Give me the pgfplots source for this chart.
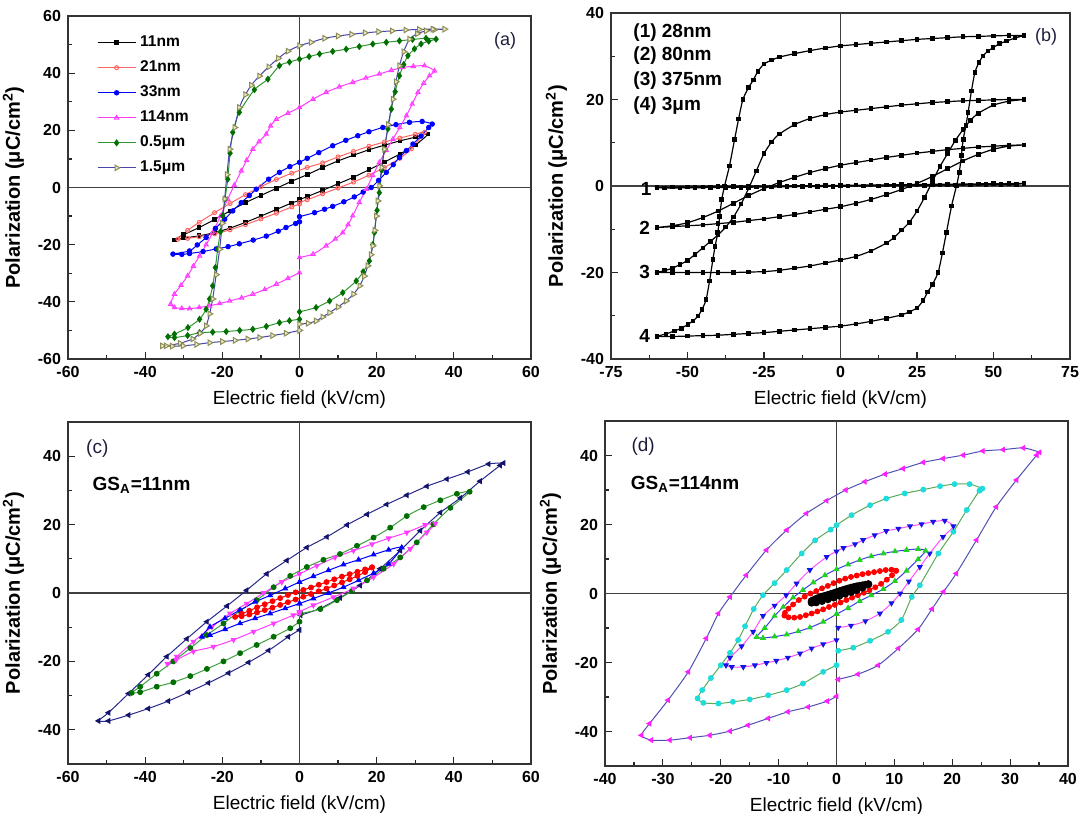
\documentclass[border=0pt]{standalone}
\usepackage{fontspec}
\setmainfont{Liberation Sans}
\usepackage{pgfplots}
\pgfplotsset{compat=1.18}
\definecolor{c21}{RGB}{255,100,100}
\definecolor{c33}{RGB}{0,0,255}
\definecolor{c114}{RGB}{255,60,255}
\definecolor{c05l}{RGB}{50,150,50}
\definecolor{c05m}{RGB}{0,110,0}
\definecolor{c15l}{RGB}{70,70,170}
\definecolor{c15f}{RGB}{235,235,190}
\definecolor{c15d}{RGB}{140,140,90}
\definecolor{navyl}{RGB}{40,40,140}
\definecolor{navym}{RGB}{20,20,110}
\definecolor{greenl}{RGB}{60,160,60}
\definecolor{lblc}{RGB}{30,30,60}
\definecolor{dout}{RGB}{80,80,180}
\definecolor{dmag}{RGB}{255,30,255}
\definecolor{dcyan}{RGB}{30,220,220}
\definecolor{dgreenl}{RGB}{90,170,90}
\definecolor{dmagl}{RGB}{255,80,255}
\definecolor{dbluem}{RGB}{20,20,230}
\definecolor{dbluel}{RGB}{60,60,230}
\definecolor{dgreenm}{RGB}{30,210,30}
\newcommand{\B}[1]{\textbf{#1}}
\pgfplotsset{
  panel/.style={
    scale only axis,
    axis line style={black!80, line width=0.75pt},
    tick align=inside, tick pos=left,
    minor tick num=1,
    major tick length=3.5pt, minor tick length=2pt,
    every tick/.style={black!85, line width=0.6pt},
    tick label style={font=\bfseries\fontsize{8}{9}\selectfont, text=black},
    xlabel={Electric field (kV/cm)},
    ylabel={Polarization (μC/cm\textsuperscript{2})},
    xlabel style={font=\fontsize{9.5}{11}\selectfont},
    ylabel style={font=\bfseries\fontsize{10}{12}\selectfont},
    every axis plot/.append style={line width=0.5pt, smooth, tension=0.4},
  },
  bstyle/.style={black, line width=0.6pt, mark=square*, mark size=0.85pt, mark options={fill=black}}
}
\begin{document}
\begin{tikzpicture}
\path[use as bounding box] (0pt,0pt) rectangle (542pt,407pt);
% ---------------- (a)
\begin{axis}[panel, at={(34pt,227.5pt)}, anchor=south west, width=231.5pt, height=171.5pt,
  xmin=-60, xmax=60, ymin=-60, ymax=60,
  xtick={-60,-40,...,60}, ytick={-60,-40,...,60},
  xticklabels={\B{-60},\B{-40},\B{-20},\B{0},\B{20},\B{40},\B{60}},
  yticklabels={\B{-60},\B{-40},\B{-20},\B{0},\B{20},\B{40},\B{60}},
  legend style={at={(0.062,0.955)}, anchor=north west, draw=none, fill=none, inner sep=0pt,
    row sep=1.6pt, font=\bfseries\fontsize{7.8}{9}\selectfont},
  legend cell align=left,
  legend image code/.code={\draw[mark repeat=2,mark phase=2,#1] plot coordinates {(0pt,0pt) (9.5pt,0pt) (19pt,0pt)};}]
\draw[black!75, line width=0.6pt] (axis cs:0,-60) -- (axis cs:0,60);
\draw[black!75, line width=0.6pt] (axis cs:-60,0) -- (axis cs:60,0);
\addplot[black, mark=square*, mark size=0.9pt] coordinates {
(0,-4.2)(2,-3.2)(6,-1.0)(10,1.3)(14,3.6)(18,6.2)(22,8.9)(26,11.7)(30,14.8)(33.3,18.7)
(30,17.6)(26,16.3)(22,14.8)(18,13.2)(14,11.3)(10,9.3)(6,7.0)(2,4.5)(-2,2.2)(-6,-0.3)(-10,-2.8)(-14,-5.3)(-18,-8.2)(-22,-11.2)(-26,-14.0)(-30,-16.5)(-32.4,-18.3)
(-30,-17.7)(-26,-16.9)(-22,-15.8)(-18,-14.2)(-14,-12.2)(-10,-10.0)(-6,-7.7)(-2,-5.4)(0,-4.6)};
\addlegendentry{11nm}
\addplot[c21, mark=o, mark size=1pt, mark options={fill=white}] coordinates {
(0,-5.2)(2,-4.3)(6,-2.2)(10,-0.2)(14,1.9)(18,4.3)(22,7.0)(26,10.2)(29,13.5)(32.4,19.3)
(30,18.6)(26,17.3)(22,15.9)(18,14.4)(14,12.6)(10,10.7)(6,8.6)(2,7.0)(-2,5.0)(-6,2.8)(-10,0.3)(-14,-2.5)(-18,-5.6)(-22,-8.8)(-26,-12.2)(-29,-15)(-31.5,-18.1)
(-29,-17.8)(-26,-17.2)(-22,-16.2)(-18,-14.8)(-14,-13.0)(-10,-11.0)(-6,-9.0)(-2,-6.8)(0,-5.8)};
\addlegendentry{21nm}
\addplot[c33, mark=*, mark size=1.1pt] coordinates {
(0,-10.2)(3.9,-8.8)(6.5,-7.6)(8.6,-6.6)(11.5,-5)(14.2,-3.3)(16.5,-1.6)(18.6,0)(20.5,2.5)(22.5,5.3)(24.3,8)(25.9,10.5)(27.7,12.9)(29.4,15.2)(31.5,18)(33.5,21)(34.4,22.2)
(31.8,23.1)(28.5,22.8)(25,22.0)(21.6,21)(18,19.5)(15.1,18.1)(12,16.5)(8.6,14.6)(5,12.2)(2,10.2)(0,8.8)(-2.5,7.3)(-5.2,5.3)(-8,2.9)(-11.2,-0.6)(-13,-2.8)(-15.1,-5.3)(-17.3,-8.2)(-19.4,-11.1)(-21.8,-14.3)(-24.2,-17.5)(-26.5,-20.1)(-28.5,-22.2)(-32.8,-23.3)
(-30.5,-23.4)(-28.5,-23.1)(-25,-22.4)(-21.6,-21.5)(-18.5,-20.7)(-15.6,-19.7)(-12,-18.4)(-8.6,-17)(-5.5,-15.3)(-3.5,-14)(-1,-12.6)(0,-12)};
\addlegendentry{33nm}
\addplot[c114, mark=triangle, mark size=1.2pt, mark options={fill=white}] coordinates {
(0,-24.5)(3.5,-23.3)(6.9,-20.4)(9.3,-18)(11.2,-15.8)(12.6,-13)(13.8,-9.9)(15.5,-5.2)(17.3,-0.6)(19,4.2)(20.7,8.8)(22.5,13)(24.2,16.9)(26,21)(27.7,25.1)(29.2,29.2)(30.7,33.3)(32.2,36.5)(33.7,39.1)(35,40.8)
(32.4,42.6)(29.5,42.4)(26.8,42)(23.8,41)(20.7,39.7)(17.2,38.3)(13.8,36.8)(10.3,35.2)(6.9,33.3)(3.5,30.9)(0,28)(-3,26)(-6,23.9)(-7.5,21.5)(-8.6,18.7)(-10.5,16)(-12.1,13.4)(-13.7,9.5)(-15.1,5.8)(-16.9,0.8)(-18.6,-4.1)(-20.5,-10)(-22.5,-15.8)(-24.2,-20)(-25.9,-23.9)(-27.5,-27.5)(-29,-30.9)(-30.7,-34.2)(-32.4,-37.3)(-33.4,-40.8)
(-32.4,-42)(-30.5,-42.3)(-28.5,-42.4)(-26,-42)(-23.3,-41.4)(-20.7,-40.6)(-18.1,-39.7)(-15,-38.6)(-12.1,-37.3)(-9,-35.7)(-6,-33.8)(-3,-31.8)(0,-29.8)};
\addlegendentry{114nm}
\addplot[c05l, mark=diamond*, mark size=1.4pt, mark options={fill=c05m, draw=c05m}] coordinates {
(0,-43.5)(4.3,-42)(7.8,-39.7)(11.2,-36.8)(14.7,-32.7)(16.5,-29.5)(18.1,-25.7)(19,-20)(19.4,-15.8)(20.1,-8)(20.7,-1.8)(21.3,6)(22,13.4)(22.9,20.5)(23.8,27.4)(24.8,33.5)(25.9,39.1)(27,43)(28.1,46.1)(29.8,48.5)(31.5,50.2)(33.5,51.2)(35.4,51.9)
(32.8,52.2)(29.3,51.8)(25.9,51.3)(22.5,50.8)(19,50.2)(15.5,49.3)(12.1,48.4)(8.6,47.6)(5.2,46.7)(2.5,45.8)(0,44.9)(-2.6,43.9)(-5.2,42.6)(-8.2,37.9)(-11.7,34.2)(-15.6,26.3)(-17.3,19.3)(-18,12)(-18.6,2.9)(-19.3,-4)(-19.9,-9.9)(-20.5,-15.5)(-21.2,-21.6)(-21.8,-28)(-22.5,-34.4)(-23.3,-39)(-24.2,-42.6)(-25.9,-46.1)(-28.9,-49)(-32.4,-51.3)(-34.1,-52.2)
(-32.4,-52.5)(-29,-51.8)(-25.9,-50.8)(-22.5,-50.6)(-19,-50.4)(-15.5,-50)(-12.1,-49.6)(-8.6,-48.6)(-5.2,-47.3)(-2.6,-46.6)(0,-46.1)};
\addlegendentry{0.5μm}
\addplot[c15l, mark=triangle*, mark size=1.6pt, mark options={rotate=-90, fill=c15f, draw=c15d}] coordinates {
(0,-47.8)(2.2,-47.5)(4.3,-46.7)(6,-45.3)(7.8,-43.8)(10,-41.8)(12.1,-39.7)(14,-37.3)(15.6,-34.4)(16.8,-31)(17.7,-27.4)(18.5,-23.5)(19,-20.4)(19.5,-15)(19.9,-10)(20.3,-4.7)(20.7,0.6)(21.3,7)(22,13.4)(23,22)(24.2,30.9)(25,37)(25.9,42.6)(27,47.5)(28.5,51.9)(30.5,53.8)(32.8,54.8)(35,55.2)(37.6,55.4)
(34.5,55.4)(31,55.3)(27.5,55.1)(24,54.8)(20.5,54.5)(17,54.1)(13.5,53.6)(10,53)(6.5,52.2)(3,50.8)(0,49.6)(-3,47.7)(-5.5,45.2)(-8,42.2)(-10.4,39)(-12.5,35.8)(-14,32.5)(-15.6,28)(-16.8,21)(-18.1,13.4)(-18.8,4.5)(-19.4,-4)(-20,-12.5)(-20.7,-21.6)(-21.6,-30.5)(-22.5,-39)(-23.3,-44.2)(-24.2,-48.4)(-25.8,-51)(-27.7,-53)(-31,-54.5)(-34.6,-55.4)(-35.6,-55.4)
(-33,-55.5)(-30.2,-55.4)(-26.7,-54.9)(-23.3,-54.3)(-20,-53.9)(-16.7,-53.5)(-13.4,-53)(-10.4,-52.5)(-7,-51.8)(-3.5,-51)(0,-50)};
\addlegendentry{1.5μm}
\node[font=\fontsize{9}{11}\selectfont, text=lblc] at (axis cs:53.3,51.3) {(a)};
\end{axis}
% ---------------- (b)
\begin{axis}[panel, at={(305.5pt,227.5pt)}, anchor=south west, width=229.5pt, height=173pt,
  xmin=-75, xmax=75, ymin=-40, ymax=40,
  xtick={-75,-50,...,75}, ytick={-40,-20,...,40},
  xticklabels={\B{-75},\B{-50},\B{-25},\B{0},\B{25},\B{50},\B{75}},
  yticklabels={\B{-40},\B{-20},\B{0},\B{20},\B{40}}]
\draw[black!75, line width=0.6pt] (axis cs:0,-40) -- (axis cs:0,40);
\draw[black!75, line width=0.6pt] (axis cs:-75,0) -- (axis cs:75,0);
\addplot[bstyle] coordinates {
(60,0.6)(55,0.56)(50,0.53)(45,0.49)(40,0.45)(35,0.41)(30,0.38)(25,0.34)(20,0.3)(15,0.26)(10,0.23)(5,0.19)(0,0.15)(-5,0.11)(-10,0.08)(-15,0.04)(-20,0)(-25,-0.04)(-30,-0.08)(-35,-0.11)(-40,-0.15)(-45,-0.19)(-50,-0.23)(-55,-0.26)(-60,-0.3)
(-57.5,-0.48)(-52.5,-0.44)(-47.5,-0.41)(-42.5,-0.37)(-37.5,-0.33)(-32.5,-0.29)(-27.5,-0.26)(-22.5,-0.22)(-17.5,-0.18)(-12.5,-0.14)(-7.5,-0.11)(-2.5,-0.07)(2.5,-0.03)(7.5,0.01)(12.5,0.04)(17.5,0.08)(22.5,0.12)(27.5,0.16)(32.5,0.19)(37.5,0.23)(42.5,0.27)(47.5,0.31)(52.5,0.34)(57.5,0.38)(60,0.6)};
\addplot[bstyle] coordinates {
(60,9.5)(55,9.4)(50,9.2)(45,9.0)(40,8.7)(35,8.4)(30,8.0)(25,7.6)(20,7.1)(15,6.6)(10,6.0)(5,5.4)(0,4.8)(-5,4.0)(-10,3.1)(-15,2.0)(-20,0.8)(-25,-0.6)(-30,-2.2)(-35,-4.0)(-40,-5.8)(-45,-7.3)(-50,-8.5)(-55,-9.2)(-60,-9.6)
(-55,-9.4)(-50,-9.2)(-45,-9.0)(-40,-8.7)(-35,-8.4)(-30,-8.0)(-25,-7.6)(-20,-7.1)(-15,-6.6)(-10,-6.0)(-5,-5.4)(0,-4.8)(5,-4.0)(10,-3.1)(15,-2.0)(20,-0.8)(25,0.6)(30,2.2)(35,4.0)(40,5.8)(45,7.3)(50,8.5)(55,9.2)(60,9.5)};
\addplot[bstyle] coordinates {
(60,20)(55,20)(50,19.9)(45,19.8)(40,19.7)(35,19.5)(30,19.3)(25,19.0)(20,18.7)(15,18.3)(10,17.9)(5,17.5)(0,17.1)(-5,16.5)(-10,15.6)(-15,14.2)(-20,12.0)(-22.5,10.2)(-25,7.5)(-27.5,3.5)(-30,-0.5)(-32.5,-4.2)(-35,-7.2)(-37.5,-9.5)(-40,-11.3)(-42.5,-12.8)(-45,-14.3)(-47.5,-15.8)(-50,-17.2)(-52.5,-18.2)(-55,-19.0)(-57.5,-19.6)(-60,-20)
(-55,-20)(-50,-20)(-45,-20)(-40,-20)(-35,-20)(-30,-19.9)(-25,-19.8)(-20,-19.5)(-15,-19.0)(-10,-18.5)(-5,-17.8)(0,-17.1)(5,-16.3)(10,-15.0)(15,-13.2)(17.5,-11.9)(20,-10.2)(22.5,-8.4)(25,-5.8)(27.5,-2.6)(30,1.0)(32.5,4.5)(35,7.5)(37.5,10.5)(40,13.0)(42.5,15.2)(45,16.8)(50,18.7)(55,19.6)(60,20)};
\addplot[bstyle] coordinates {
(60,34.8)(55,34.8)(50,34.7)(45,34.6)(40,34.5)(35,34.3)(30,34.1)(25,33.9)(20,33.6)(15,33.3)(10,33.0)(5,32.7)(0,32.4)(-5,31.9)(-10,31.3)(-15,30.6)(-20,29.8)(-22.5,29.1)(-25,28.2)(-27,26.5)(-28.5,24.5)(-30,22.8)(-31.9,20)(-33.3,15.5)(-34.6,10.8)(-36.3,4.6)(-37.9,0)(-38.8,-3.1)(-39.5,-7)(-40.1,-10.8)(-41,-14)(-41.7,-17)(-42.8,-22)(-43.9,-26.2)(-45.2,-28.5)(-46.6,-30.1)(-48.2,-31.2)(-49.9,-32)(-52,-32.9)(-54.2,-33.5)(-57,-34.2)(-60,-34.8)
(-55,-34.8)(-50,-34.7)(-45,-34.6)(-40,-34.5)(-35,-34.3)(-30,-34.1)(-25,-33.9)(-20,-33.6)(-15,-33.3)(-10,-33.0)(-5,-32.7)(0,-32.4)(5,-31.9)(10,-31.3)(15,-30.6)(20,-29.8)(22.5,-29.1)(25,-28.2)(27,-26.5)(28.5,-24.5)(30,-22.8)(31.9,-20)(33.3,-15.5)(34.6,-10.8)(36.3,-4.6)(37.9,0)(38.8,3.1)(39.5,7)(40.1,10.8)(41,14)(41.7,17)(42.8,22)(43.9,26.2)(45.2,28.5)(46.6,30.1)(48.2,31.2)(49.9,32)(52,32.9)(54.2,33.5)(57,34.2)(60,34.8)};
\begin{scope}[every node/.style={font=\bfseries\fontsize{9.5}{11}\selectfont, inner sep=0pt}]
\node[anchor=west] at (axis cs:-67.8,35.5) {(1) 28nm};
\node[anchor=west] at (axis cs:-67.8,30.1) {(2) 80nm};
\node[anchor=west] at (axis cs:-67.8,24.3) {(3) 375nm};
\node[anchor=west] at (axis cs:-67.8,18.7) {(4) 3μm};
\node at (axis cs:-63.5,-0.8) {1};
\node at (axis cs:-64,-9.6) {2};
\node at (axis cs:-64,-19.9) {3};
\node at (axis cs:-64,-34.7) {4};
\end{scope}
\node[font=\fontsize{9}{11}\selectfont, text=lblc] at (axis cs:67.2,34.5) {(b)};
\end{axis}
% ---------------- (c)
\begin{axis}[panel, at={(34pt,25pt)}, anchor=south west, width=231.5pt, height=171pt,
  xmin=-60, xmax=60, ymin=-50, ymax=50,
  xtick={-60,-40,...,60}, ytick={-40,-20,...,40},
  xticklabels={\B{-60},\B{-40},\B{-20},\B{0},\B{20},\B{40},\B{60}},
  yticklabels={\B{-40},\B{-20},\B{0},\B{20},\B{40}}]
\draw[black!75, line width=0.6pt] (axis cs:0,-50) -- (axis cs:0,50);
\draw[black!75, line width=0.6pt] (axis cs:-60,0) -- (axis cs:60,0);
\addplot[navyl, mark=triangle*, mark size=1.3pt, mark options={rotate=90, fill=navym, draw=navym}] coordinates {
(0.3,-6.5)(5.4,-4.5)(10.5,-1.4)(15.7,2.2)(20.9,7.1)(26.1,12.4)(31.3,18.2)(36.5,23.5)(41.7,27.8)(46.8,32.7)(52,37.3)(52.9,38)
(49,37.7)(43.6,35.4)(38.2,33.3)(33,31.2)(27.8,28.6)(22.6,25.9)(17.5,23)(12.3,19.9)(7.1,16.4)(1.9,13.3)(-3.3,9.5)(-8.5,5.6)(-13.7,0.8)(-18.8,-3.8)(-24,-8.4)(-29.2,-13.4)(-34.4,-18.6)(-39.2,-23.9)(-44.3,-29.4)(-49.5,-35)(-52.1,-37.4)
(-49.5,-37.4)(-44.3,-35.7)(-39.2,-33.8)(-34,-31.6)(-28.8,-29)(-23.6,-26.3)(-18.4,-23.4)(-13.2,-20.3)(-8,-16.8)(-2.9,-12.8)(0,-10.8)};
\addplot[greenl, mark=*, mark size=1.2pt, mark options={fill=c05m, draw=c05m}] coordinates {
(0.3,-6)(5.4,-4.7)(9.7,-2.1)(13.6,0.6)(17.5,3.7)(21.8,7.1)(26.1,10.4)(30.4,14.8)(34.7,20.1)(39.1,24.9)(44.1,29.6)
(40.8,29)(36.5,27.1)(32.2,25.1)(27.8,22.5)(23.5,19.1)(19.2,16.2)(14.9,13.8)(10.5,11.4)(6.2,9.7)(1.9,7.6)(-2.4,5.0)(-6.7,1.7)(-11.1,-2.1)(-15.4,-5.2)(-19.7,-8.9)(-24,-12.3)(-28.3,-16.1)(-32.7,-20)(-37,-23.6)(-41.3,-27.4)(-43.5,-29.2)
(-41.3,-29)(-37,-27.4)(-32.7,-26.1)(-28.3,-24.3)(-24,-22.2)(-19.7,-20)(-15.4,-17.6)(-11.1,-15.2)(-6.7,-12.8)(-2.4,-10.3)(0,-8.4)};
\addplot[c114, mark=triangle*, mark size=1.3pt, mark options={rotate=180}] coordinates {
(0,-5.5)(3.6,-3.6)(8.8,-1.2)(14,1.3)(19.2,4.6)(24.4,8.5)(28.7,12.9)(33,17.7)(35.2,20.3)
(32.6,19.9)(27.8,17.7)(23.1,16)(18.8,14.3)(14,12.4)(9.2,10.4)(4.5,8)(0,5.6)(-4.6,3.2)(-9.3,0)(-13.7,-3.1)(-18,-6)(-22.7,-9.9)(-27.5,-14.2)(-31.8,-18.6)(-34.2,-20.7)
(-32,-19.6)(-27.5,-17.1)(-22.3,-15.7)(-17.1,-13.7)(-11.9,-11.3)(-6.7,-8.9)(-1.6,-6.5)(0,-6)};
\addplot[c33, mark=triangle*, mark size=1.3pt] coordinates {
(0,-3.1)(3.6,-1.6)(7.5,0)(11.4,1.7)(15.3,3.7)(19.2,5.8)(23.1,8.5)(26.5,13.3)
(23.1,12.6)(19.2,11.2)(15.3,9.7)(11.4,8.3)(7.5,6.6)(3.6,4.9)(0,3.2)(-3.7,1.3)(-7.6,-0.7)(-11.5,-2.6)(-15.4,-5)(-19.3,-7.4)(-23.2,-9.9)(-25.3,-12.8)
(-23.2,-12.3)(-19.3,-10.6)(-15.4,-8.9)(-11.5,-7.4)(-7.6,-6)(-3.7,-4.5)(0,-3.1)};
\addplot[red, mark=*, mark size=1.2pt] coordinates {
(18.8,7.5)(17,6.9)(15,6.2)(13,5.5)(11,4.8)(9,4.0)(7,3.2)(5,2.4)(3,1.6)(1,0.9)(-1,0.2)(-3,-0.6)(-5,-1.5)(-7,-2.4)(-9,-3.3)(-11,-4.2)(-13,-5.2)(-15,-6.1)(-16.7,-7.0)
(-15,-6.8)(-13,-6.3)(-11,-5.7)(-9,-5.0)(-7,-4.3)(-5,-3.5)(-3,-2.7)(-1,-1.9)(1,-1.1)(3,-0.3)(5,0.5)(7,1.3)(9,2.2)(11,3.1)(13,4.0)(15,5.0)(17,6.1)(18.8,7.5)};
\node[font=\fontsize{9.5}{11}\selectfont, text=lblc] at (axis cs:-52.4,42.2) {(c)};
\node[anchor=base west, inner sep=0pt, font=\bfseries\fontsize{9.5}{11}\selectfont] at (axis cs:-53.7,30) {GS\textsubscript{A}=11nm};
\end{axis}
% ---------------- (d)
\begin{axis}[panel, at={(302.5pt,24pt)}, anchor=south west, width=231.5pt, height=172.5pt,
  xmin=-40, xmax=40, ymin=-50, ymax=50,
  xtick={-40,-30,...,40}, ytick={-40,-20,...,40},
  xticklabels={\B{-40},\B{-30},\B{-20},\B{-10},\B{0},\B{10},\B{20},\B{30},\B{40}},
  yticklabels={\B{-40},\B{-20},\B{0},\B{20},\B{40}}]
\draw[black!75, line width=0.6pt] (axis cs:0,-50) -- (axis cs:0,50);
\draw[black!75, line width=0.6pt] (axis cs:-40,0) -- (axis cs:40,0);
\addplot[dout, mark=triangle*, mark size=1.3pt, mark options={rotate=90, fill=dmag, draw=dmag}] coordinates {
(0.3,-24.9)(3.7,-23.4)(7.2,-20.8)(10.7,-15.9)(14.1,-10.4)(16.5,-4.5)(18.5,0.5)(20.7,5.8)(24.2,15.5)(27.6,25.1)(31.1,32.9)(34.6,40.1)(35.1,40.9)
(32.3,42.2)(28.8,41.7)(25.3,41.3)(21.9,40.1)(18.4,39.1)(15,38)(11.5,36.2)(8.4,34.6)(4.9,32.4)(1.6,30)(-1.7,26.9)(-5.2,23.2)(-8.6,18.4)(-12.1,12.6)(-15.6,5.3)(-18.4,-1)(-20.4,-5.8)(-22.5,-13)(-25.6,-22.7)(-29.1,-30.9)(-32.3,-37.7)(-33.7,-41.1)
(-32,-42.5)(-28.8,-42.5)(-25.3,-41.8)(-21.9,-41.1)(-18.4,-39.9)(-15.3,-38.2)(-11.8,-36.2)(-8.4,-34.3)(-4.9,-32.9)(-1.6,-31.2)(0,-29.8)};
\addplot[dgreenl, mark=*, mark size=1.2pt, mark options={fill=dcyan, draw=dcyan}] coordinates {
(0.3,-16.6)(2.9,-15.7)(5.8,-13.7)(8.9,-11.1)(11.2,-7.7)(13,-1)(14.4,2.4)(17.6,11.6)(20.2,17.9)(22.5,24.2)(24.7,29.8)(25.2,30.4)
(23,31.7)(20.4,31.7)(17.9,31.1)(15,30.1)(11.8,29)(8.6,27.5)(5.8,25.6)(2.6,22.7)(0,19.8)(-1,18.5)(-3.7,15.4)(-6,11.6)(-8.6,6.8)(-10.7,3.0)(-12.7,-0.5)(-14.3,-4.5)(-15.8,-9.5)(-17,-13.5)(-18.4,-17.2)(-20,-20.8)(-21.7,-24.5)(-23.2,-28)(-24,-30.4)
(-23,-31.7)(-20.4,-31.9)(-17.9,-31.4)(-15,-30.7)(-11.8,-29.5)(-8.6,-28)(-5.8,-26.1)(-2.3,-22.7)(0,-20.8)};
\addplot[dmagl, mark=triangle*, mark size=1.3pt, mark options={rotate=180, fill=dbluem, draw=dbluem}] coordinates {
(0.3,-9.9)(2.5,-9.3)(5,-8.0)(7.5,-5.8)(9.5,-2.8)(11,0)(12.5,3.5)(14.4,7.7)(16.1,11.6)(18.4,16.4)(20.2,19.5)
(18.7,21.1)(16.7,20.8)(14.7,20.1)(12.7,19.5)(10.7,18.8)(8.6,18.1)(6.6,16.9)(4.6,15.5)(3.2,14.3)(1.2,13.2)(0,12.2)(-1.7,10.6)(-4.6,6.8)(-6.9,2.9)(-8.7,-0.5)(-10.7,-3.5)(-12.7,-6.5)(-14.4,-11.1)(-16.4,-15.3)(-18.4,-18.6)(-19.1,-20.8)
(-18.1,-21.3)(-16.1,-21.3)(-14.1,-20.8)(-12.1,-20.1)(-10.4,-19.5)(-8.4,-18.6)(-6.3,-17.4)(-4.3,-15.9)(-2.3,-14.7)(0,-13.5)};
\addplot[dbluel, mark=triangle*, mark size=1.3pt, mark options={fill=dgreenm, draw=dgreenm}] coordinates {
(0,-6)(2,-4.2)(4,-2.2)(6,-0.5)(8.1,1.3)(10.1,3.6)(12.1,6.6)(14.1,9.9)(15.4,12.4)
(14.1,12.9)(12.1,12.6)(10.1,12.2)(8.1,11.6)(6,10.8)(4,9.7)(2,8.4)(0,7.0)(-2,5.3)(-4,3.2)(-5.8,1.0)(-7.5,-1.2)(-9.2,-3.9)(-10.7,-6.5)(-12.4,-10)(-13.8,-12.6)
(-12.7,-12.9)(-10.7,-12.5)(-8.6,-11.9)(-6.6,-11)(-4.6,-9.9)(-2.3,-8.2)(0,-6)};
\addplot[red, mark=*, mark size=1.2pt] coordinates {
(10.3,6.6)(9.5,6.9)(8.5,6.8)(7.5,6.5)(6.5,6.2)(5.5,5.9)(4.5,5.6)(3.5,5.2)(2.5,4.8)(1.5,4.3)(0.5,3.7)(-0.5,3.0)(-1.5,2.2)(-2.5,1.5)(-3.5,0.7)(-4.5,0)(-5.5,-0.9)(-6.5,-1.9)(-7.5,-3.2)(-8.3,-4.4)(-8.9,-5.6)(-9,-6.4)
(-8.3,-6.9)(-7.3,-7.0)(-6.3,-6.8)(-5.3,-6.3)(-4.3,-5.8)(-3.3,-5.2)(-2.3,-4.6)(-1.3,-3.9)(-0.3,-3.3)(0.7,-2.6)(1.7,-1.9)(2.7,-1.2)(3.7,-0.5)(4.7,0.2)(5.7,1.0)(6.7,1.8)(7.7,2.8)(8.7,4.0)(9.6,5.3)(10.3,6.6)};
\addplot[black, line width=1.6pt, mark=*, mark size=1.1pt] coordinates {
(5.5,2.7)(5,2.55)(4.5,2.4)(4,2.25)(3.5,2.1)(3,1.9)(2.5,1.7)(2,1.45)(1.5,1.2)(1,0.95)(0.5,0.7)(0,0.4)(-0.5,0.1)(-1,-0.15)(-1.5,-0.4)(-2,-0.65)(-2.5,-0.9)(-3,-1.2)(-3.5,-1.5)(-4,-1.9)(-4.3,-2.2)
(-4.3,-2.7)(-3.5,-2.6)(-2.5,-2.2)(-1.5,-1.7)(-0.5,-1.2)(0.5,-0.7)(1.5,-0.1)(2.5,0.4)(3.5,1.0)(4.5,1.7)(5.5,2.7)};
\node[font=\fontsize{9.5}{11}\selectfont, text=lblc] at (axis cs:-33.4,42.5) {(d)};
\node[anchor=base west, inner sep=0pt, font=\bfseries\fontsize{9.5}{11}\selectfont] at (axis cs:-35.6,30.1) {GS\textsubscript{A}=114nm};
\end{axis}
\end{tikzpicture}
\end{document}
